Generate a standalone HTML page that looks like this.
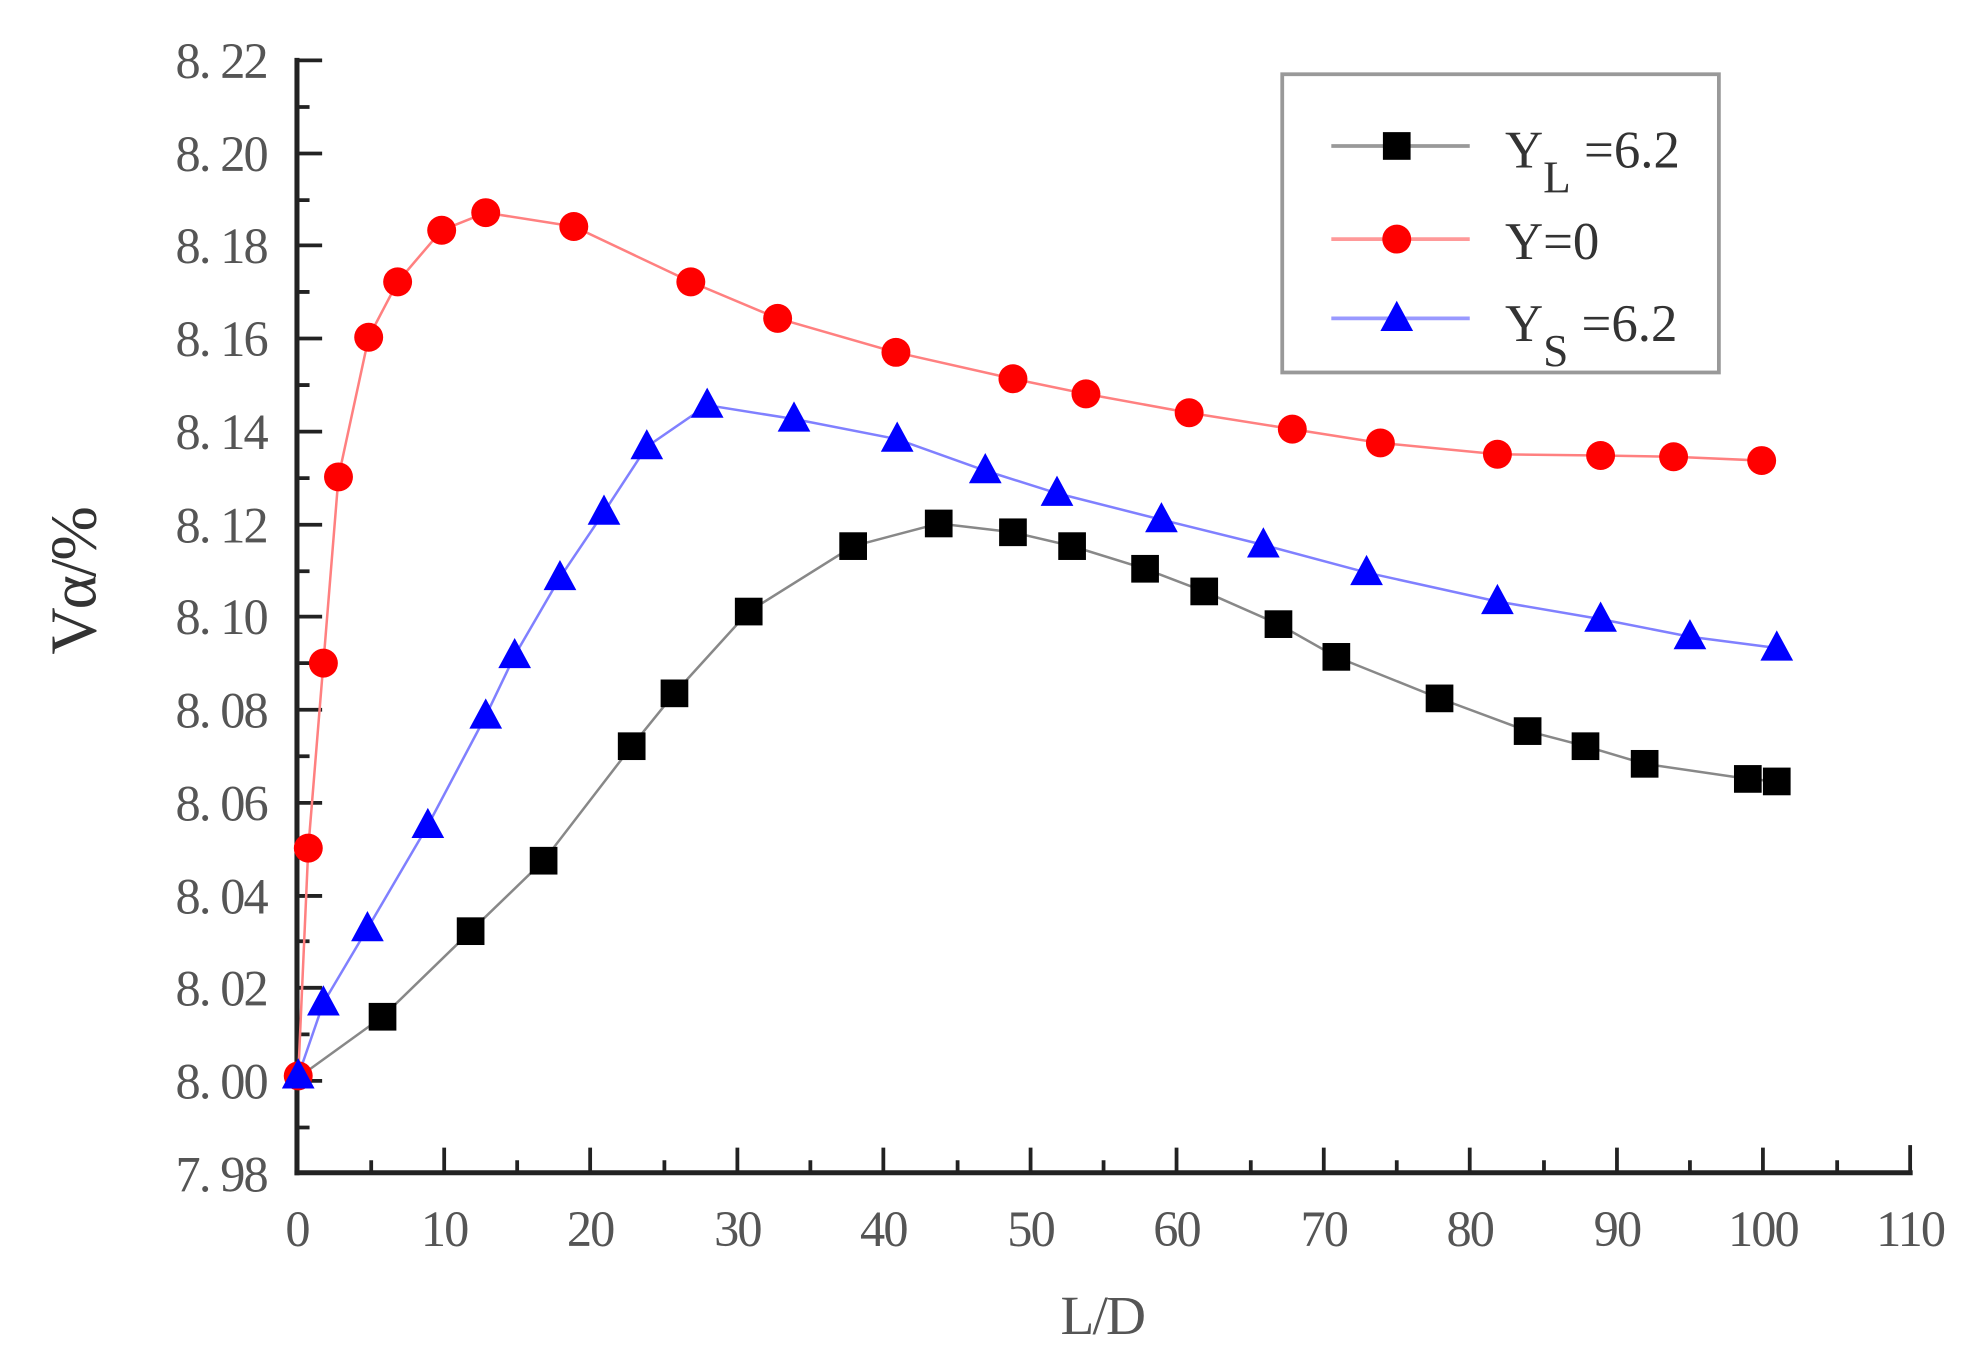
<!DOCTYPE html>
<html><head><style>html,body{margin:0;padding:0;background:#fff}svg{display:block}</style></head>
<body>
<svg width="1963" height="1356" viewBox="0 0 1560 1077.6" preserveAspectRatio="none" xmlns="http://www.w3.org/2000/svg">
<defs>
<rect id="sq" x="-11" y="-11" width="22" height="22" fill="#000"/>
<circle id="ci" r="11.5" fill="#ff0000"/>
<polygon id="tr" points="0,-14 13,10 -13,10" fill="#0000ff"/>
</defs>
<g stroke="#222" fill="none">
<line x1="236" y1="46" x2="236" y2="934" stroke-width="4"/>
<line x1="234" y1="932" x2="1520" y2="932" stroke-width="4"/>
<line x1="1518" y1="910" x2="1518" y2="932" stroke-width="3"/>
<path d="M236 48h20M236 122h20M236 195h20M236 269h20M236 343h20M236 417h20M236 490h20M236 564h20M236 638h20M236 712h20M236 785h20M236 859h20" stroke-width="3"/>
<path d="M236 85h10M236 159h10M236 232h10M236 306h10M236 380h10M236 454h10M236 527h10M236 601h10M236 675h10M236 748h10M236 822h10M236 896h10" stroke-width="3"/>
<path d="M353 932v-20M469 932v-20M586 932v-20M702 932v-20M819 932v-20M935 932v-20M1052 932v-20M1168 932v-20M1285 932v-20M1401 932v-20" stroke-width="3"/>
<path d="M295 932v-10M411 932v-10M528 932v-10M644 932v-10M761 932v-10M877 932v-10M994 932v-10M1110 932v-10M1227 932v-10M1343 932v-10M1460 932v-10" stroke-width="3"/>
</g>
<g font-family="'Liberation Serif',serif" font-size="40" fill="#555" text-anchor="end" letter-spacing="-1.5">
<text x="212" y="62">8. 22</text><text x="212" y="136">8. 20</text><text x="212" y="209">8. 18</text><text x="212" y="283">8. 16</text><text x="212" y="357">8. 14</text><text x="212" y="431">8. 12</text><text x="212" y="504">8. 10</text><text x="212" y="578">8. 08</text><text x="212" y="652">8. 06</text><text x="212" y="726">8. 04</text><text x="212" y="799">8. 02</text><text x="212" y="873">8. 00</text><text x="212" y="947">7. 98</text>
</g>
<g font-family="'Liberation Serif',serif" font-size="40" fill="#555" text-anchor="middle" letter-spacing="-1.5">
<text x="236" y="990">0</text><text x="353" y="990">10</text><text x="469" y="990">20</text><text x="586" y="990">30</text><text x="702" y="990">40</text><text x="819" y="990">50</text><text x="935" y="990">60</text><text x="1052" y="990">70</text><text x="1168" y="990">80</text><text x="1285" y="990">90</text><text x="1401" y="990">100</text><text x="1518" y="990">110</text>
<text x="876" y="1060" font-size="44">L/D</text>
<text transform="translate(76,462) rotate(-90)" font-size="52" fill="#333">Vα/%</text>
</g>
<polyline fill="none" stroke="#888" stroke-width="2" points="243,852 304,808 374,740 432,684 502,593 536,551 595,486 678,434 746,416 805,423 852,434 910,452 957,470 1016,496 1062,522 1144,555 1214,581 1260,593 1307,607 1389,619 1412,621"/>
<polyline fill="none" stroke="#ff8080" stroke-width="2" points="237,855 245,674 257,527 269,379 293,268 316,224 351,183 386,169 456,180 549,224 618,253 712,280 805,301 863,313 945,328 1027,341 1097,352 1190,361 1272,362 1330,363 1400,366"/>
<polyline fill="none" stroke="#8080ff" stroke-width="2" points="237,855 257,797 292,738 340,656 386,569 409,521 445,459 480,407 514,355 562,322 631,333 713,349 783,374 840,392 923,413 1004,433 1086,455 1190,478 1272,492 1343,506 1412,515"/>
<g>
<use href="#sq" x="304" y="808"/><use href="#sq" x="374" y="740"/><use href="#sq" x="432" y="684"/><use href="#sq" x="502" y="593"/><use href="#sq" x="536" y="551"/><use href="#sq" x="595" y="486"/><use href="#sq" x="678" y="434"/><use href="#sq" x="746" y="416"/><use href="#sq" x="805" y="423"/><use href="#sq" x="852" y="434"/><use href="#sq" x="910" y="452"/><use href="#sq" x="957" y="470"/><use href="#sq" x="1016" y="496"/><use href="#sq" x="1062" y="522"/><use href="#sq" x="1144" y="555"/><use href="#sq" x="1214" y="581"/><use href="#sq" x="1260" y="593"/><use href="#sq" x="1307" y="607"/><use href="#sq" x="1389" y="619"/><use href="#sq" x="1412" y="621"/>
<use href="#ci" x="237" y="855"/><use href="#ci" x="245" y="674"/><use href="#ci" x="257" y="527"/><use href="#ci" x="269" y="379"/><use href="#ci" x="293" y="268"/><use href="#ci" x="316" y="224"/><use href="#ci" x="351" y="183"/><use href="#ci" x="386" y="169"/><use href="#ci" x="456" y="180"/><use href="#ci" x="549" y="224"/><use href="#ci" x="618" y="253"/><use href="#ci" x="712" y="280"/><use href="#ci" x="805" y="301"/><use href="#ci" x="863" y="313"/><use href="#ci" x="945" y="328"/><use href="#ci" x="1027" y="341"/><use href="#ci" x="1097" y="352"/><use href="#ci" x="1190" y="361"/><use href="#ci" x="1272" y="362"/><use href="#ci" x="1330" y="363"/><use href="#ci" x="1400" y="366"/>
<use href="#tr" x="237" y="855"/><use href="#tr" x="257" y="797"/><use href="#tr" x="292" y="738"/><use href="#tr" x="340" y="656"/><use href="#tr" x="386" y="569"/><use href="#tr" x="409" y="521"/><use href="#tr" x="445" y="459"/><use href="#tr" x="480" y="407"/><use href="#tr" x="514" y="355"/><use href="#tr" x="562" y="322"/><use href="#tr" x="631" y="333"/><use href="#tr" x="713" y="349"/><use href="#tr" x="783" y="374"/><use href="#tr" x="840" y="392"/><use href="#tr" x="923" y="413"/><use href="#tr" x="1004" y="433"/><use href="#tr" x="1086" y="455"/><use href="#tr" x="1190" y="478"/><use href="#tr" x="1272" y="492"/><use href="#tr" x="1343" y="506"/><use href="#tr" x="1412" y="515"/>
</g>
<rect x="1019" y="59" width="347" height="237" fill="none" stroke="#999" stroke-width="3"/>
<line x1="1058" y1="116" x2="1168" y2="116" stroke="#999" stroke-width="3"/><use href="#sq" x="1110" y="116"/>
<line x1="1058" y1="190" x2="1168" y2="190" stroke="#ff9999" stroke-width="3"/><use href="#ci" x="1110" y="190"/>
<line x1="1058" y1="253" x2="1168" y2="253" stroke="#9999ff" stroke-width="3"/><use href="#tr" x="1110" y="253"/>
<g font-family="'Liberation Serif',serif" font-size="42" fill="#333">
<text x="1196" y="133">Y<tspan font-size="36" dy="20">L</tspan><tspan dy="-20"> =6.2</tspan></text>
<text x="1196" y="206">Y=0</text>
<text x="1196" y="271">Y<tspan font-size="36" dy="20">S</tspan><tspan dy="-20"> =6.2</tspan></text>
</g>
</svg>
</body></html>
